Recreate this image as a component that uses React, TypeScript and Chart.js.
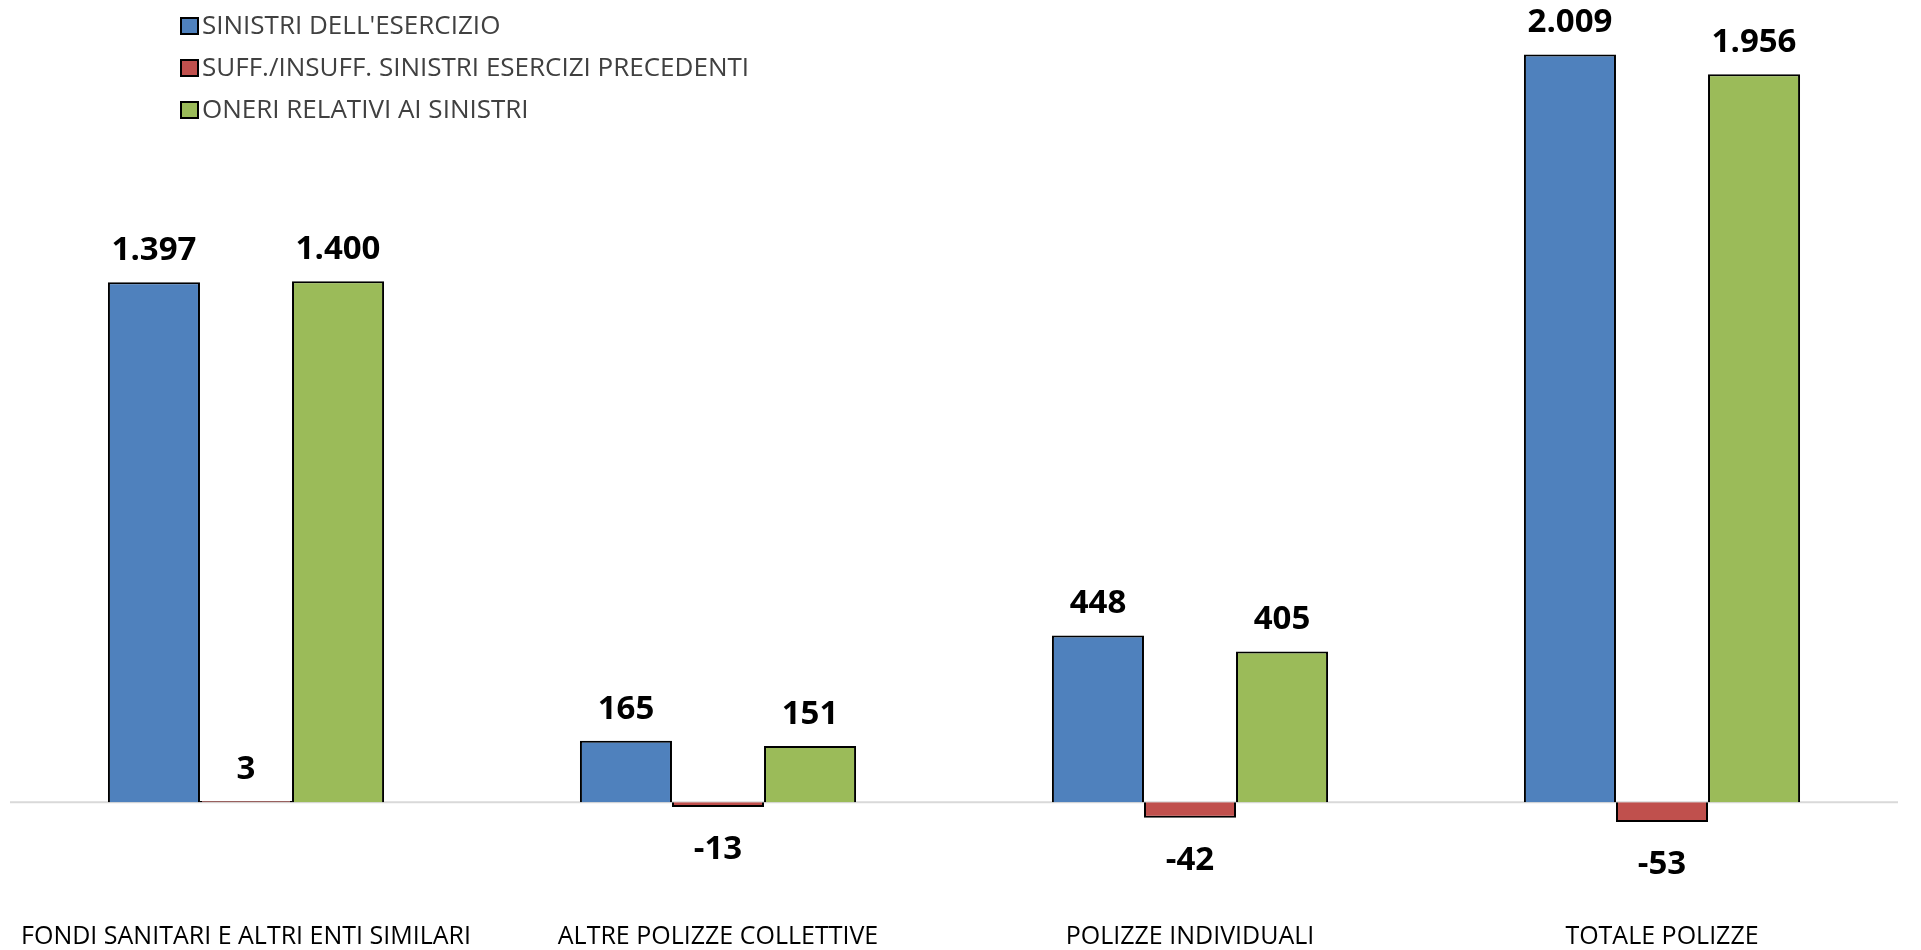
import React, { useEffect, useRef } from "react";
import { Chart, registerables } from "chart.js";

Chart.register(...registerables);

const categories = [
  "FONDI SANITARI E ALTRI ENTI SIMILARI",
  "ALTRE POLIZZE COLLETTIVE",
  "POLIZZE INDIVIDUALI",
  "TOTALE POLIZZE",
];
const seriesNames = [
  "SINISTRI DELL'ESERCIZIO",
  "SUFF./INSUFF. SINISTRI ESERCIZI PRECEDENTI",
  "ONERI RELATIVI AI SINISTRI",
];
const sinistriEsercizio = [1397, 165, 448, 2009];
const suffInsuff = [3, -13, -42, -53];
const oneriSinistri = [1400, 151, 405, 1956];
const seriesColors = ["#4F81BD", "#C0504D", "#9BBB59"];

const FONT = "'Open Sans', 'Liberation Sans', sans-serif";

function fmt(v: number): string {
  const s = String(Math.abs(v)).replace(/\B(?=(\d{3})+(?!\d))/g, ".");
  return v < 0 ? "-" + s : s;
}

const zeroLine = {
  id: "zeroLine",
  beforeDatasetsDraw(chart: any) {
    const { ctx, chartArea } = chart;
    const y = chart.scales.y.getPixelForValue(0);
    ctx.save();
    ctx.strokeStyle = "#D9D9D9";
    ctx.lineWidth = 2;
    ctx.beginPath();
    ctx.moveTo(chartArea.left, y);
    ctx.lineTo(chartArea.right, y);
    ctx.stroke();
    ctx.restore();
  },
};

const valueLabels = {
  id: "valueLabels",
  afterDatasetsDraw(chart: any) {
    const ctx = chart.ctx;
    ctx.save();
    ctx.font = `bold 33px ${FONT}`;
    ctx.fillStyle = "#000000";
    ctx.textAlign = "center";
    ctx.textBaseline = "alphabetic";
    chart.data.datasets.forEach((ds: any, di: number) => {
      const meta = chart.getDatasetMeta(di);
      meta.data.forEach((el: any, i: number) => {
        const v = ds.data[i] as number;
        const p = el.getProps(["x", "y"], true);
        if (v >= 0) ctx.fillText(fmt(v), p.x, p.y - 22);
        else ctx.fillText(fmt(v), p.x, p.y + 52);
      });
    });
    ctx.restore();
  },
};

const customLegend = {
  id: "customLegend",
  afterDraw(chart: any) {
    const ctx = chart.ctx;
    ctx.save();
    ctx.font = `26px ${FONT}`;
    ctx.textAlign = "left";
    ctx.textBaseline = "middle";
    const rows = [26, 68, 110];
    chart.data.datasets.forEach((ds: any, i: number) => {
      const cy = rows[i];
      ctx.fillStyle = ds.backgroundColor;
      ctx.fillRect(181, cy - 8, 17, 16);
      ctx.lineWidth = 2;
      ctx.strokeStyle = "#000000";
      ctx.strokeRect(181, cy - 8, 17, 16);
      ctx.fillStyle = "#404040";
      ctx.fillText(ds.label, 202, cy + 1);
    });
    ctx.restore();
  },
};

export default function App() {
  const canvasRef = useRef<HTMLCanvasElement | null>(null);

  useEffect(() => {
    if (!canvasRef.current) return;
    const values = [sinistriEsercizio, suffInsuff, oneriSinistri];
    const chart = new Chart(canvasRef.current, {
      type: "bar",
      data: {
        labels: categories,
        datasets: seriesNames.map((name, i) => ({
          label: name,
          data: values[i],
          backgroundColor: seriesColors[i],
          borderColor: "#000000",
          borderWidth: 2,
          categoryPercentage: 0.585,
          barPercentage: 1.0,
        })),
      },
      options: {
        animation: false,
        responsive: true,
        maintainAspectRatio: false,
        layout: { padding: { left: 10, right: 23, top: 2, bottom: 0 } },
        plugins: {
          legend: { display: false },
          tooltip: { enabled: false },
          title: { display: false },
        },
        scales: {
          x: {
            grid: { display: false, drawTicks: false },
            border: { display: false },
            ticks: {
              font: { family: FONT, size: 25 },
              color: "#000000",
              padding: 64,
              maxRotation: 0,
              autoSkip: false,
            },
            afterFit: (scale: any) => {
              scale.height = 92;
              scale.paddingLeft = 0;
              scale.paddingRight = 0;
            },
          },
          y: {
            display: false,
            min: -150,
            max: 2150,
          },
        },
      },
      plugins: [zeroLine, valueLabels, customLegend],
    });
    return () => chart.destroy();
  }, []);

  return (
    <div
      style={{
        position: "fixed",
        left: 0,
        top: 0,
        width: "1921px",
        height: "950px",
        background: "#ffffff",
      }}
    >
      <canvas ref={canvasRef} />
    </div>
  );
}
